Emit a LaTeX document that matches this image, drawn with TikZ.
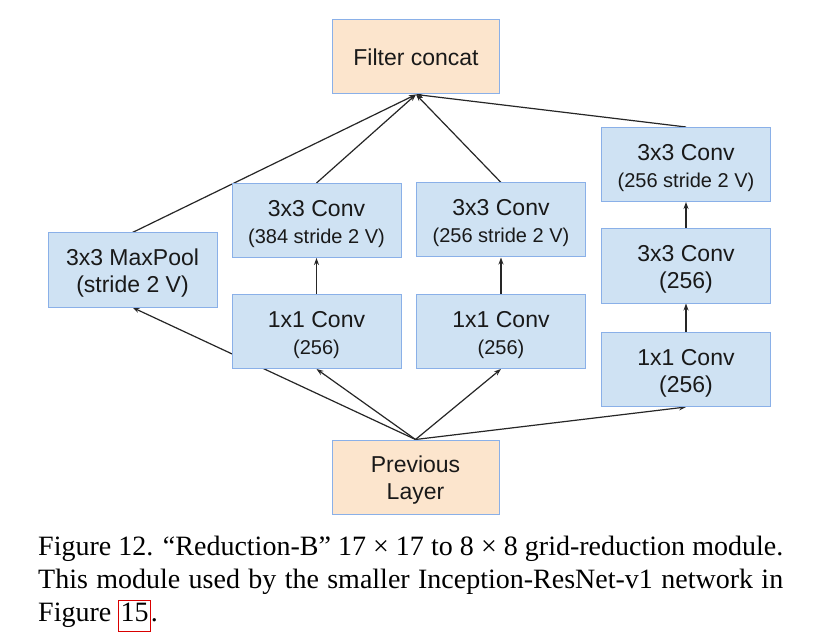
\documentclass[tikz,border=0pt]{standalone}
\usepackage{fontspec}
\setmainfont{Liberation Serif}
\newfontfamily\arialfont{Liberation Sans}
\usetikzlibrary{arrows.meta,backgrounds}
\definecolor{boxblue}{HTML}{CFE2F3}
\definecolor{boxorange}{HTML}{FCE5CD}
\definecolor{boxborder}{HTML}{8AB0E8}
\newcommand{\bigtxt}{\fontsize{23}{27}\selectfont}
\newcommand{\smtxt}{\fontsize{20}{27}\selectfont}
\newcommand{\tstrut}{\rule{0pt}{23pt}}
\begin{document}
\begin{tikzpicture}[x=1pt,y=-1pt,
  layerbox/.style={draw=boxborder,line width=1pt,fill=boxblue,minimum width=169pt,minimum height=74pt,inner sep=0pt,align=center,font=\arialfont\bigtxt,text=black!90},
  endbox/.style={layerbox,fill=boxorange,minimum width=167pt},
  conn/.style={line width=1.2pt,black!85,-{Stealth[length=7pt,width=5pt]}}]
\useasboundingbox (0,0) rectangle (832,644);
% nodes
\node[endbox] (concat) at (416,57) {Filter concat};
\node[endbox] (prev) at (415.5,477) {\tstrut Previous\\Layer};
\node[layerbox] (pool) at (132.5,270) {\tstrut 3x3 MaxPool\\(stride 2 V)};
\node[layerbox] (c2b) at (316.5,220.5) {\tstrut 3x3 Conv\\{\smtxt (384 stride 2 V)}};
\node[layerbox] (c2a) at (316.5,331.5) {\tstrut 1x1 Conv\\{\smtxt (256)}};
\node[layerbox] (c3b) at (501,220) {\tstrut 3x3 Conv\\{\smtxt (256 stride 2 V)}};
\node[layerbox] (c3a) at (501,331.5) {\tstrut 1x1 Conv\\{\smtxt (256)}};
\node[layerbox] (c4c) at (686,164.5) {\tstrut 3x3 Conv\\{\smtxt (256 stride 2 V)}};
\node[layerbox] (c4b) at (686,266) {\tstrut 3x3 Conv\\(256)};
\node[layerbox] (c4a) at (686,369.5) {\tstrut 1x1 Conv\\(256)};
% connectors
\begin{scope}[on background layer]
\fill[white] (0,0) rectangle (832,644);
\draw[conn] (prev.north) -- (pool.south);
\draw[conn] (prev.north) -- (c2a.south);
\draw[conn] (prev.north) -- (c3a.south);
\draw[conn] (prev.north) -- (c4a.south);
\draw[conn] (c2a.north) -- (c2b.south);
\draw[conn] (c3a.north) -- (c3b.south);
\draw[conn] (c4a.north) -- (c4b.south);
\draw[conn] (c4b.north) -- (c4c.south);
\draw[conn] (pool.north) -- (concat.south);
\draw[conn] (c2b.north) -- (concat.south);
\draw[conn] (c3b.north) -- (concat.south);
\draw[conn] (c4c.north) -- (concat.south);
\end{scope}
% caption
\node[anchor=base west,inner sep=0pt,font=\fontsize{28}{33}\selectfont] (cap1) at (38,555)
  {\makebox[745pt][s]{Figure 12. “Reduction-B” 17 × 17 to 8 × 8 grid-reduction module.}};
\node[anchor=base west,inner sep=0pt,font=\fontsize{28}{33}\selectfont] (cap2) at (38,588)
  {\makebox[745pt][s]{This module used by the smaller Inception-ResNet-v1 network in}};
\node[anchor=base west,inner sep=0pt,font=\fontsize{28}{33}\selectfont] (cap3) at (38,621)
  {Figure {\setlength{\fboxsep}{1.5pt}\setlength{\fboxrule}{0.8pt}\color{red!85!black}\fbox{\color{black}\rule[-8pt]{0pt}{27pt}15}}.};
\end{tikzpicture}
\end{document}
